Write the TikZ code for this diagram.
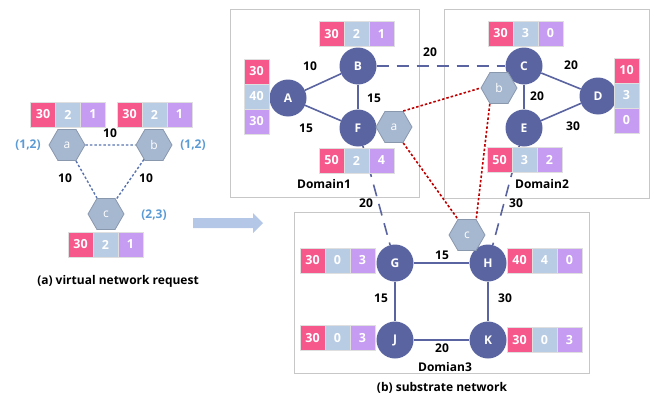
\documentclass[tikz,border=0pt]{standalone}
\usepackage{fontspec}
\setmainfont{Open Sans}
\usetikzlibrary{positioning,shapes.geometric}

\definecolor{cpu}{HTML}{F7588C}
\definecolor{bw}{HTML}{B8CCE4}
\definecolor{mem}{HTML}{C59CF2}
\definecolor{subnode}{HTML}{5A64A0}
\definecolor{hexfill}{HTML}{A6B7D0}
\definecolor{hexline}{HTML}{8A98AE}
\definecolor{loc}{HTML}{5B9BD5}
\definecolor{maprd}{HTML}{C00000}
\definecolor{arrowbl}{HTML}{B4C7E7}

\tikzset{
  snode/.style={circle,fill=subnode,text=white,minimum size=37pt,inner sep=0pt,font=\fontsize{12}{14}\selectfont\bfseries},
  vnode/.style={regular polygon,regular polygon sides=6,minimum size=36pt,inner sep=0pt,fill=hexfill,draw=hexline,line width=0.8pt,text=white,font=\fontsize{12}{14}\selectfont},
  res/.style={minimum width=25pt,minimum height=25pt,inner sep=0pt,outer sep=0pt,text=white,draw=white!75!gray,line width=0.6pt,font=\fontsize{12.5}{14}\selectfont\bfseries},
  wlabel/.style={font=\fontsize{12}{14}\selectfont\bfseries,text=black},
  loclabel/.style={font=\fontsize{12}{14}\selectfont\bfseries,text=loc},
  domainbox/.style={draw=black!22,line width=1pt},
  slink/.style={draw=subnode,line width=1.6pt},
  ilink/.style={draw=subnode,line width=1.6pt,dash pattern=on 12pt off 8pt},
  vlink/.style={draw=subnode!70!loc,line width=1.4pt,dash pattern=on 2.5pt off 2pt},
  maplink/.style={draw=maprd,line width=1.6pt,dash pattern=on 2.5pt off 2pt}
}

% three resource boxes in a row / column: name, centre of first box, cpu, bw, mem
\newcommand{\hres}[5]{%
  \node[res,fill=cpu] (#1-1) at (#2) {#3};
  \node[res,fill=bw,right=0pt of #1-1] (#1-2) {#4};
  \node[res,fill=mem,right=0pt of #1-2] (#1-3) {#5};}
\newcommand{\vres}[5]{%
  \node[res,fill=cpu] (#1-1) at (#2) {#3};
  \node[res,fill=bw,below=0pt of #1-1] (#1-2) {#4};
  \node[res,fill=mem,below=0pt of #1-2] (#1-3) {#5};}

\begin{document}
\begin{tikzpicture}[x=1pt,y=-1pt]
\useasboundingbox (0,0) rectangle (662,399);

% virtual network request
\node[vnode] (a) at (67,145) {a};
\node[vnode] (b) at (154,145) {b};
\node[vnode] (c) at (106,214) {c};
\draw[vlink] (a) -- (b);
\draw[vlink] (a) -- (c);
\draw[vlink] (b) -- (c);
\hres{ra}{43,114.5}{30}{2}{1}
\hres{rb}{129.5,114.5}{30}{2}{1}
\hres{rc}{80.5,244.5}{30}{2}{1}
\node[loclabel] (la) at (28,145) {(1,2)};
\node[loclabel] (lb) at (193,145) {(1,2)};
\node[loclabel] (lc) at (154,215) {(2,3)};
\node[wlabel] (wab) at (110,133) {10};
\node[wlabel] (wac) at (65,178) {10};
\node[wlabel] (wbc) at (146,178) {10};
\node[wlabel] (capa) at (118,281) {(a) virtual network request};

% arrow
\fill[arrowbl] (193,218) -- (253,218) -- (253,213) -- (263,223) -- (253,233) -- (253,228) -- (193,228) -- cycle;

% domains
\draw[domainbox] (230,9) rectangle (419,197);
\draw[domainbox] (444,9) rectangle (649,198);
\draw[domainbox] (294,212) rectangle (589,373);

% substrate nodes
\node[snode] (A) at (288,98) {A};
\node[snode] (B) at (358,66) {B};
\node[snode] (F) at (358,128) {F};
\node[snode] (C) at (524,66) {C};
\node[snode] (D) at (598,96) {D};
\node[snode] (E) at (524,128) {E};
\node[snode] (G) at (395,263) {G};
\node[snode] (H) at (488,263) {H};
\node[snode] (J) at (395,340) {J};
\node[snode] (K) at (488,340) {K};

\draw[slink] (A) -- (B);
\draw[slink] (A) -- (F);
\draw[slink] (B) -- (F);
\draw[slink] (C) -- (D);
\draw[slink] (C) -- (E);
\draw[slink] (E) -- (D);
\draw[slink] (G) -- (H);
\draw[slink] (G) -- (J);
\draw[slink] (H) -- (K);
\draw[slink] (J) -- (K);
\draw[ilink] (B) -- (C);
\draw[ilink] (F) -- (G);
\draw[ilink] (E) -- (H);

\hres{rB}{331.5,34}{30}{2}{1}
\vres{rA}{256.5,71.5}{30}{40}{30}
\hres{rF}{331.5,160.5}{50}{2}{4}
\hres{rC}{500.5,33.5}{30}{3}{0}
\vres{rD}{626.5,70.5}{10}{3}{0}
\hres{rE}{499.5,160}{50}{3}{2}
\hres{rG}{312.5,260.5}{30}{0}{3}
\hres{rH}{519.5,260.5}{40}{4}{0}
\hres{rJ}{312.5,338}{30}{0}{3}
\hres{rK}{519.5,340}{30}{0}{3}

% mapped virtual nodes
\node[vnode] (ma) at (394,127) {a};
\node[vnode] (mb) at (499,88) {b};
\node[vnode] (mc) at (467,235) {c};
\draw[maplink] (ma.60) -- (mb.180);
\draw[maplink] (ma.300) -- (mc.120);
\draw[maplink] (mb.240) -- (mc.60);

% link weights
\node[wlabel] (wAB) at (310,66) {10};
\node[wlabel] (wAF) at (306,128) {15};
\node[wlabel] (wBF) at (374,98) {15};
\node[wlabel] (wBC) at (430,52) {20};
\node[wlabel] (wCD) at (571,65) {20};
\node[wlabel] (wCE) at (537,96) {20};
\node[wlabel] (wED) at (573,126) {30};
\node[wlabel] (wFG) at (366,203) {20};
\node[wlabel] (wEH) at (516,203) {30};
\node[wlabel] (wGH) at (442,255) {15};
\node[wlabel] (wGJ) at (381,298) {15};
\node[wlabel] (wHK) at (505,298) {30};
\node[wlabel] (wJK) at (442,348) {20};

\node[wlabel] (dom1) at (324,184) {Domain1};
\node[wlabel] (dom2) at (542,184) {Domain2};
\node[wlabel] (dom3) at (445,367) {Domian3};
\node[wlabel] (capb) at (442,388) {(b) substrate network};
\end{tikzpicture}
\end{document}
